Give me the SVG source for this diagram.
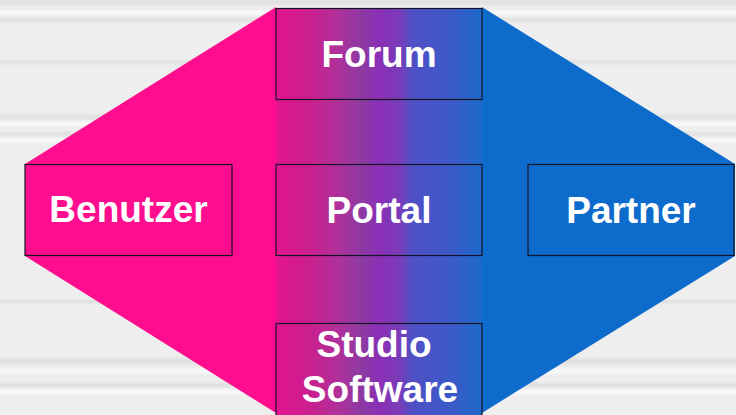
<svg xmlns="http://www.w3.org/2000/svg" width="736" height="415" viewBox="0 0 736 415">
  <defs>
    <!-- soft horizontal bands of the backdrop -->
    <linearGradient id="bandDark" x1="0" y1="0" x2="0" y2="1">
      <stop offset="0" stop-color="#dcdcdc" stop-opacity="0"/>
      <stop offset="0.5" stop-color="#dcdcdc" stop-opacity="0.8"/>
      <stop offset="1" stop-color="#dcdcdc" stop-opacity="0"/>
    </linearGradient>
    <linearGradient id="bandLight" x1="0" y1="0" x2="0" y2="1">
      <stop offset="0" stop-color="#fafafa" stop-opacity="0"/>
      <stop offset="0.5" stop-color="#fafafa" stop-opacity="1"/>
      <stop offset="1" stop-color="#fafafa" stop-opacity="0"/>
    </linearGradient>
    <!-- pink to blue column in the middle -->
    <linearGradient id="mid" x1="0" y1="0" x2="1" y2="0">
      <stop offset="0" stop-color="#e3138f"/>
      <stop offset="0.17" stop-color="#c9208f"/>
      <stop offset="0.3" stop-color="#b0309a"/>
      <stop offset="0.42" stop-color="#8c3aa3"/>
      <stop offset="0.5" stop-color="#8a2fb6"/>
      <stop offset="0.6" stop-color="#7a3cb8"/>
      <stop offset="0.66" stop-color="#5050c6"/>
      <stop offset="0.85" stop-color="#3b5ac9"/>
      <stop offset="1" stop-color="#1d69cb"/>
    </linearGradient>
  </defs>
  <style>
    .box { fill: none; stroke: #141426; stroke-width: 1.2; }
    .label { font-family: "Liberation Sans", Arial, sans-serif; font-weight: bold; font-size: 37px; fill: #ffffff; text-anchor: middle; }
  </style>

  <!-- backdrop -->
  <rect x="0" y="0" width="736" height="415" fill="#eeeeee"/>
  <g id="backdrop-bands">
    <rect x="0" y="-2" width="736" height="9" fill="url(#bandDark)"/>
    <rect x="0" y="9" width="736" height="7" fill="url(#bandLight)"/>
    <rect x="0" y="16" width="736" height="8" fill="url(#bandDark)"/>
    <rect x="0" y="58" width="736" height="8" fill="url(#bandDark)"/>
    <rect x="0" y="113" width="736" height="8" fill="url(#bandDark)"/>
    <rect x="0" y="120" width="736" height="8" fill="url(#bandLight)"/>
    <rect x="0" y="130" width="736" height="8" fill="url(#bandDark)"/>
    <rect x="0" y="137" width="736" height="7" fill="url(#bandLight)"/>
    <rect x="0" y="298" width="736" height="7" fill="url(#bandDark)"/>
    <rect x="0" y="355" width="736" height="12" fill="url(#bandDark)"/>
    <rect x="0" y="367" width="736" height="8" fill="url(#bandLight)"/>
    <rect x="0" y="381" width="736" height="8" fill="url(#bandDark)"/>
    <rect x="0" y="388" width="736" height="8" fill="url(#bandLight)"/>
  </g>

  <!-- coloured wings and middle column -->
  <g id="connectors">
    <polygon points="25,164 276,7 276,413 25,256" fill="#fe0e8e"/>
    <polygon points="482,7 735,164 735,256 482,413" fill="#0c6bcb"/>
    <rect x="276" y="8" width="206" height="407" fill="url(#mid)"/>
  </g>

  <g id="forum">
    <rect class="box" x="276" y="8.5" width="206" height="91"/>
    <text class="label" x="379" y="67">Forum</text>
  </g>

  <g id="benutzer">
    <rect class="box" x="25" y="164.5" width="207" height="91"/>
    <text class="label" x="128.5" y="222">Benutzer</text>
  </g>

  <g id="portal">
    <rect class="box" x="276" y="164.5" width="206" height="91"/>
    <text class="label" x="379" y="222.5">Portal</text>
  </g>

  <g id="partner">
    <rect class="box" x="528" y="164.5" width="206" height="91"/>
    <text class="label" x="631" y="222.5">Partner</text>
  </g>

  <g id="studio-software">
    <rect class="box" x="276" y="323.5" width="206" height="100"/>
    <text class="label" x="374" y="357">Studio</text>
    <text class="label" x="380" y="402">Software</text>
  </g>
</svg>
